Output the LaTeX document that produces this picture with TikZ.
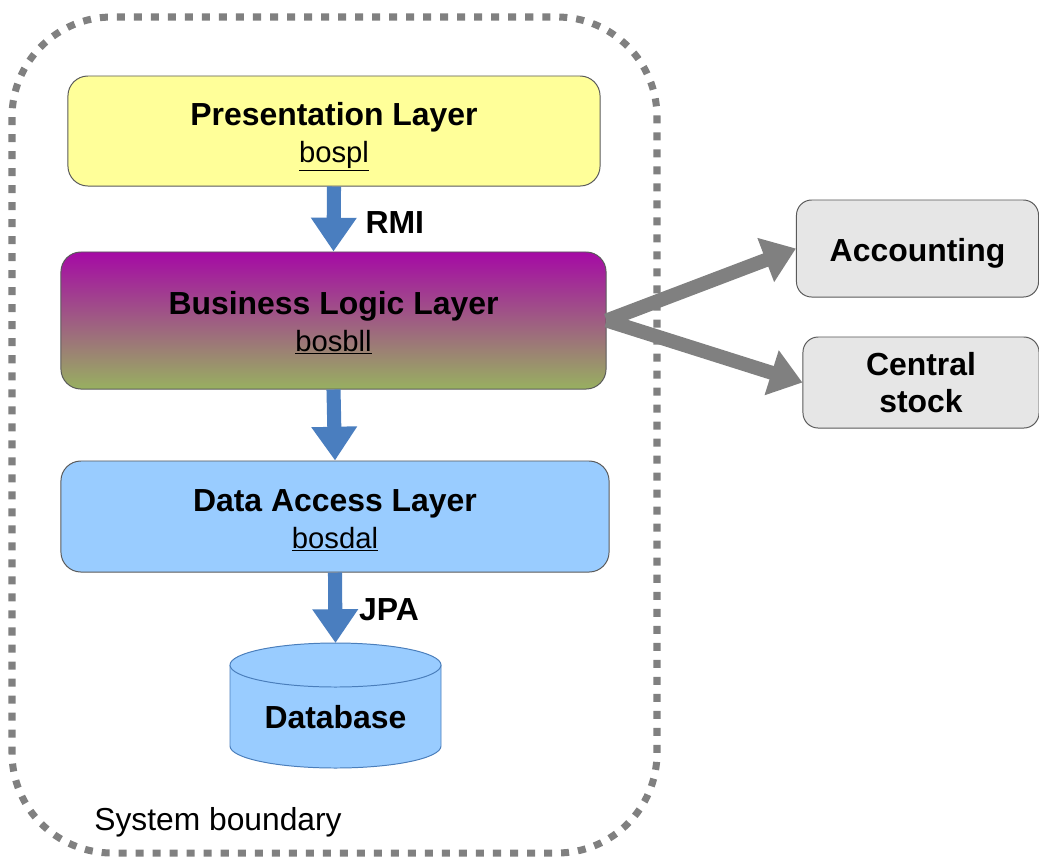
\documentclass[tikz,border=0pt]{standalone}
\usepackage{fontspec}
\setmainfont{Liberation Sans}
\usetikzlibrary{arrows.meta}

\definecolor{boundgray}{HTML}{808080}
\definecolor{boxline}{HTML}{5A5A5A}
\definecolor{plyellow}{HTML}{FFFF99}
\definecolor{blltop}{HTML}{A50AA5}
\definecolor{bllbottom}{HTML}{98B060}
\definecolor{dalblue}{HTML}{99CCFF}
\definecolor{dbline}{HTML}{4A7EBB}
\definecolor{arrowblue}{HTML}{4A7EBF}
\definecolor{extgray}{HTML}{E6E6E6}

\newcommand{\pkgname}[1]{{\fontsize{20.8}{26.3}\selectfont\underline{#1}}}
\newcommand{\lift}[1]{\rule{0pt}{#1}}

\tikzset{
  layer/.style={draw=boxline, line width=0.7pt, rounded corners=0.5cm,
    align=center, font=\fontsize{22.7}{26.3}\selectfont},
  extsys/.style={draw=boxline, line width=0.7pt, rounded corners=0.38cm,
    align=center, font=\fontsize{22.7}{26.3}\selectfont\bfseries},
  boundary/.style={draw=boundgray, line width=5pt, dash pattern=on 5.7pt off 6.4pt,
    rounded corners=2.5cm},
  callarrow/.style={draw=arrowblue, line width=10pt, -{Triangle[length=24pt, width=31pt]}},
  linkarrow/.style={draw=boundgray, line width=10pt, -{Triangle[length=23pt, width=32pt]}},
  lbl/.style={inner sep=0pt, font=\fontsize{22.7}{26.3}\selectfont\bfseries},
}

\begin{document}
\begin{tikzpicture}[x=0.025cm, y=0.025cm]
    \useasboundingbox (0,0) rectangle (1039,-858);

    % System boundary
    \draw[boundary] (12,-17) rectangle (657,-853);
    \node[font=\fontsize{22.6}{26.3}\selectfont] (sysb) at (218,-822) {System boundary};

    % Layers
    \node[layer, fill=plyellow, minimum width=13.3cm, minimum height=2.75cm] (pl) at (334,-131)
        {\lift{25pt}\textbf{Presentation Layer}\\\pkgname{bospl}};
    \node[layer, top color=blltop, bottom color=bllbottom, minimum width=13.625cm, minimum height=3.425cm] (bll) at (333.5,-320.5)
        {\lift{19.3pt}\textbf{Business Logic Layer}\\\pkgname{bosbll}};
    \node[layer, fill=dalblue, minimum width=13.7cm, minimum height=2.775cm] (dal) at (335,-516.5)
        {\lift{20.7pt}\textbf{Data Access Layer}\\\pkgname{bosdal}};

    % Database cylinder
    \draw[dbline, fill=dalblue, line width=0.7pt] (230,-665) -- (230,-746)
        arc[start angle=180, end angle=360, x radius=105.5, y radius=22] -- (441,-665);
    \draw[dbline, fill=dalblue, line width=0.7pt] (335.5,-665) ellipse[x radius=105.5, y radius=22];
    \coordinate (dbtop) at (335.5,-643);
    \node[lbl] (db) at (335.5,-717) {Database};

    % External systems
    \node[extsys, fill=extgray, minimum width=6.05cm, minimum height=2.425cm] (acc) at (917.5,-248.5) {\lift{23pt}Accounting};
    \node[extsys, fill=extgray, minimum width=5.9cm, minimum height=2.275cm] (cs) at (921,-382.5) {Central\\stock};

    % Calls between layers
    \draw[callarrow] (pl.south) -- (bll.north) node[lbl, pos=0.55, anchor=west, xshift=0.62cm] (rmi) {RMI};
    \draw[callarrow] (bll.south) -- (dal.north);
    \draw[callarrow] (dal.south) -- (dbtop) node[lbl, pos=0.52, anchor=west, xshift=0.42cm] (jpa) {JPA};

    % Links to other systems
    \draw[linkarrow] (bll.east) -- (acc.west);
    \draw[linkarrow] (bll.east) -- (cs.west);
\end{tikzpicture}
\end{document}
